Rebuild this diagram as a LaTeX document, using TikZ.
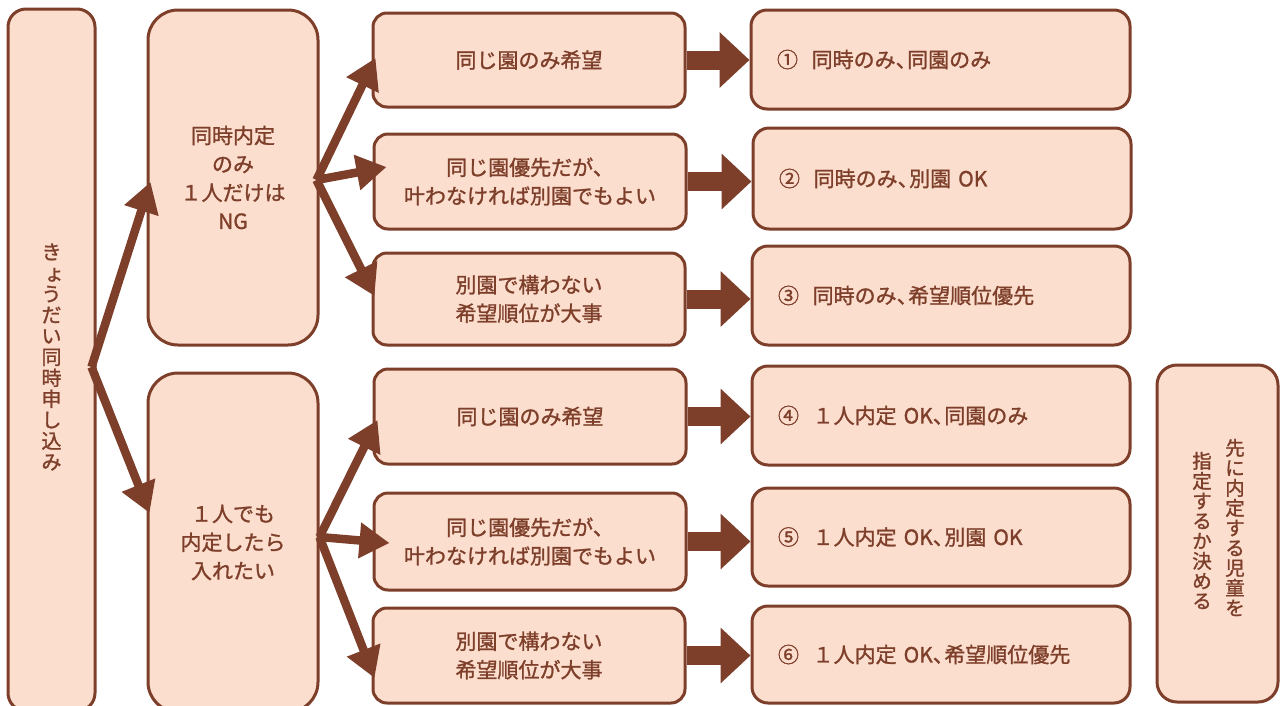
\documentclass[tikz,border=0pt]{standalone}
\usepackage{fontspec}
\newfontfamily\jp{Noto Sans CJK JP}[FakeBold=1.2]
\usetikzlibrary{arrows.meta,calc}
\definecolor{peach}{RGB}{251,222,206}
\definecolor{brn}{RGB}{125,62,42}
\newcommand{\tc}{、\kern-0.45em}
\tikzset{
  box/.style={draw=brn, fill=peach, line width=3pt, rounded corners=#1, text=brn, align=center, inner sep=0pt,
    font=\jp\fontsize{21}{28.5}\selectfont},
  box/.default=14pt,
  rbox/.style={box=16pt, align=left, inner xsep=26pt, text width=#1},
  darrow/.style={draw=brn, line width=8.5pt, -{Triangle[length=30pt,width=34pt]}},
  barrow/.style={draw=brn, line width=19pt, -{Triangle[length=30pt,width=54pt]}},
  vtext/.style={text=brn, align=center, inner sep=0pt}
}
\begin{document}
\begin{tikzpicture}[x=1pt,y=-1pt]
\useasboundingbox (0,0) rectangle (1280,705);
% left column
\node[box=18pt, minimum width=87pt, minimum height=702pt] (L) at (51.5,360) {};
\node[vtext, font=\jp\fontsize{20}{21}\selectfont] (Lt) at (51.5,357) {き\\\hspace*{0.3em}ょ\\う\\だ\\い\\同\\時\\申\\し\\込\\み};
% second column
\node[box=30pt, minimum width=170pt, minimum height=335pt] (A) at (233,177.5) {同時内定\\のみ\\１人だけは\\NG};
\node[box=30pt, minimum width=170pt, minimum height=339pt] (B) at (233,542.5) {１人でも\\内定したら\\入れたい};
% middle column
\node[box, minimum width=312pt, minimum height=94pt] (m1) at (529,60) {同じ園のみ希望};
\node[box, minimum width=312pt, minimum height=95pt] (m2) at (530,181.5) {同じ園優先だが、\\叶わなければ別園でもよい};
\node[box, minimum width=312pt, minimum height=92pt] (m3) at (529,299) {別園で構わない\\希望順位が大事};
\node[box, minimum width=312pt, minimum height=95pt] (m4) at (530,416.5) {同じ園のみ希望};
\node[box, minimum width=312pt, minimum height=97pt] (m5) at (530,541.5) {同じ園優先だが、\\叶わなければ別園でもよい};
\node[box, minimum width=312pt, minimum height=95pt] (m6) at (529,655.5) {別園で構わない\\希望順位が大事};
% right column
\node[rbox=327pt, minimum width=379pt, minimum height=99pt] (r1) at (940.5,59.5) {①\hspace{0.65em}同時のみ\tc 同園のみ};
\node[rbox=326pt, minimum width=378pt, minimum height=101pt] (r2) at (942,178.5) {②\hspace{0.65em}同時のみ\tc 別園 OK};
\node[rbox=326pt, minimum width=378pt, minimum height=99pt] (r3) at (941,295.5) {③\hspace{0.65em}同時のみ\tc 希望順位優先};
\node[rbox=326pt, minimum width=378pt, minimum height=99pt] (r4) at (941,415.5) {④\hspace{0.65em}１人内定 OK\tc 同園のみ};
\node[rbox=326pt, minimum width=378pt, minimum height=98pt] (r5) at (941,537) {⑤\hspace{0.65em}１人内定 OK\tc 別園 OK};
\node[rbox=326pt, minimum width=378pt, minimum height=97pt] (r6) at (941,654.5) {⑥\hspace{0.65em}１人内定 OK\tc 希望順位優先};
% far right
\node[box=20pt, minimum width=121pt, minimum height=337pt] (S) at (1217.5,533.5) {};
\node[vtext, font=\jp\fontsize{19.5}{20}\selectfont] (S1) at ($(S.center)+(17.5,-6)$) {先\\に\\内\\定\\す\\る\\児\\童\\を};
\node[vtext, font=\jp\fontsize{19.5}{20}\selectfont] (S2) at ($(S.center)+(-15.5,-3)$) {指\\定\\す\\る\\か\\決\\め\\る};
% diagonal arrows
\coordinate (Lo) at ($(L.east)+(-5,7)$);
\coordinate (Ao) at ($(A.east)+(-3,2.5)$);
\coordinate (Bo) at ($(B.east)+(0,-5.5)$);
\draw[darrow] (Lo) -- ($(A.west)+(4,4.5)$);
\draw[darrow] (Lo) -- ($(B.west)+(3,-29.5)$);
\draw[darrow] (Ao) -- ($(m1.west)+(4,-2)$);
\draw[darrow] (Ao) -- ($(m2.west)+(14,-14.5)$);
\draw[darrow] (Ao) -- ($(m3.west)+(3,-3)$);
\draw[darrow] (Bo) -- ($(m4.west)+(5,3.5)$);
\draw[darrow] (Bo) -- ($(m5.west)+(17,1.5)$);
\draw[darrow] (Bo) -- ($(m6.west)+(3,22.5)$);
% block arrows
\foreach \i in {1,...,6}{
  \draw[barrow] (m\i.east) -- (m\i.east -| r\i.west);
}
\end{tikzpicture}
\end{document}
